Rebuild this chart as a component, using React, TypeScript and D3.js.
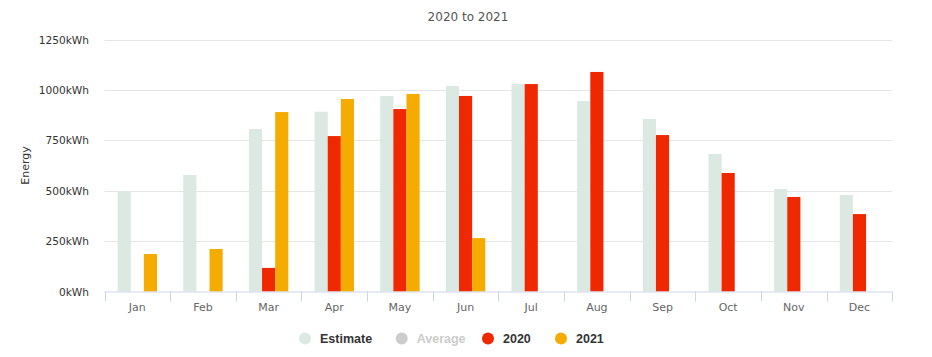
import React, { useEffect, useRef } from "react";
import * as d3 from "d3";

const categories = ["Jan", "Feb", "Mar", "Apr", "May", "Jun", "Jul", "Aug", "Sep", "Oct", "Nov", "Dec"];
const seriesNames = ["Estimate", "Average", "2020", "2021"];
const seriesColors = ["#dce8e2", "#cccccc", "#f02800", "#f5ab00"];
const seriesVisible = [true, false, true, true];
const estimate = [498, 578, 806, 892, 970, 1019, 1029, 945, 856, 682, 508, 479];
const average: (number | null)[] = [null, null, null, null, null, null, null, null, null, null, null, null];
const y2020: (number | null)[] = [null, null, 117, 771, 905, 970, 1029, 1089, 776, 588, 469, 384];
const y2021: (number | null)[] = [186, 211, 890, 955, 980, 265, null, null, null, null, null, null];
const yTicks = [0, 250, 500, 750, 1000, 1250];
const title = "2020 to 2021";
const yTitle = "Energy";

const W = 932;
const H = 357;
const FONT = "'DejaVu Sans', sans-serif";
const LFONT = "'Liberation Sans', Arial, sans-serif";

export default function App() {
  const ref = useRef<SVGSVGElement>(null);
  useEffect(() => {
    const svg = d3.select(ref.current);
    svg.selectAll("*").remove();
    const left = 104.5, right = 892.3, top = 39.5, bottom = 291.5;
    const x = d3.scaleBand<string>().domain(categories).range([left, right]);
    const y = d3.scaleLinear().domain([0, 1250]).range([bottom, top]);

    svg.append("text").attr("x", W / 2 + 2).attr("y", 21).attr("text-anchor", "middle")
      .attr("font-family", FONT).attr("font-size", 12).attr("fill", "#555").text(title);

    svg.append("g").selectAll("line").data(yTicks.filter(t => t > 0)).join("line")
      .attr("x1", left).attr("x2", right)
      .attr("y1", d => Math.round(y(d)) + 0.5).attr("y2", d => Math.round(y(d)) + 0.5)
      .attr("stroke", "#e6e6e6").attr("stroke-width", 1);

    svg.append("g").selectAll("text").data(yTicks).join("text")
      .attr("x", 89).attr("y", d => y(d) + 4).attr("text-anchor", "end")
      .attr("font-family", FONT).attr("font-size", 10.6).attr("fill", "#333")
      .text(d => `${d}kWh`);

    svg.append("text").attr("transform", `translate(29,${(top + bottom) / 2}) rotate(-90)`)
      .attr("text-anchor", "middle").attr("font-family", FONT).attr("font-size", 11)
      .attr("fill", "#333").text(yTitle);

    const all = [estimate, average, y2020, y2021];
    const visibleIdx = all.map((_, i) => i).filter(i => seriesVisible[i]);
    const inner = d3.scaleBand<number>().domain(visibleIdx)
      .range([0, x.bandwidth()]).paddingOuter(1).paddingInner(0);
    const gBars = svg.append("g");
    visibleIdx.forEach(si => {
      const data = all[si];
      gBars.append("g").selectAll("rect")
        .data(categories.map((c, i) => ({ c, v: data[i] })).filter(d => d.v != null))
        .join("rect")
        .attr("x", d => (x(d.c) as number) + (inner(si) as number))
        .attr("width", inner.bandwidth())
        .attr("y", d => y(d.v as number))
        .attr("height", d => bottom - y(d.v as number))
        .attr("fill", seriesColors[si]);
    });

    svg.append("line").attr("x1", left).attr("x2", right).attr("y1", bottom + 0.5).attr("y2", bottom + 0.5)
      .attr("stroke", "#ccd6eb");
    const tickXs = categories.map(c => x(c) as number).concat([right]);
    svg.append("g").selectAll("line").data(tickXs).join("line")
      .attr("x1", d => Math.round(d) + 0.5).attr("x2", d => Math.round(d) + 0.5)
      .attr("y1", bottom).attr("y2", bottom + 10).attr("stroke", "#ccd6eb");
    svg.append("g").selectAll("text").data(categories).join("text")
      .attr("x", d => (x(d) as number) + x.bandwidth() / 2).attr("y", 311)
      .attr("text-anchor", "middle").attr("font-family", FONT).attr("font-size", 11)
      .attr("fill", "#666").text(d => d);

    const legendX = [305, 401.7, 488, 561];
    const lg = svg.append("g");
    seriesNames.forEach((n, i) => {
      lg.append("circle").attr("cx", legendX[i]).attr("cy", 338.5).attr("r", 6)
        .attr("fill", seriesVisible[i] ? seriesColors[i] : "#cccccc");
      lg.append("text").attr("x", legendX[i] + 15).attr("y", 343)
        .attr("font-family", LFONT).attr("font-size", 12.5).attr("font-weight", "bold")
        .attr("fill", seriesVisible[i] ? "#333" : "#cccccc").text(n);
    });
  }, []);
  return (
    <svg ref={ref} width={W} height={H}
      style={{ position: "absolute", left: 0, top: 0, background: "#fff" }} />
  );
}
